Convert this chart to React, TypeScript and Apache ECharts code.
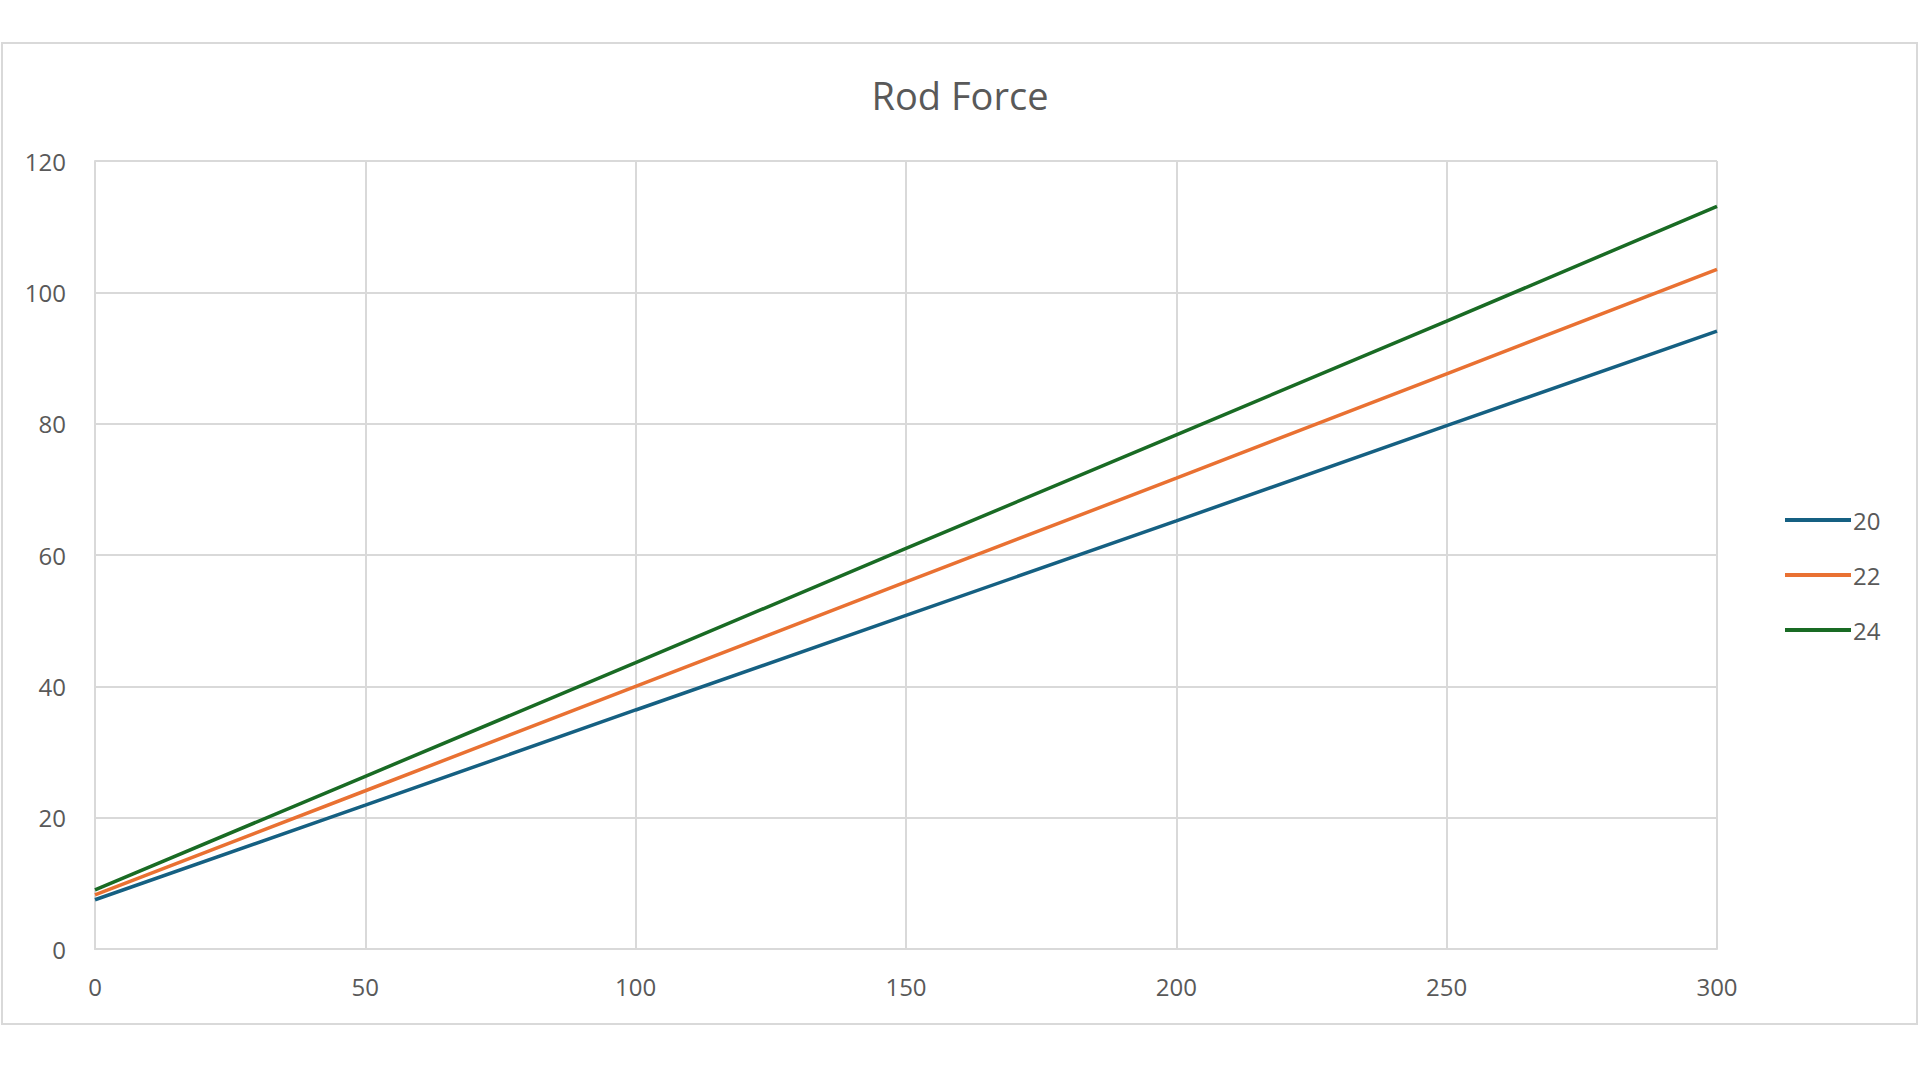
import React, { useEffect, useRef } from "react";
import * as echarts from "echarts";

const xValues = [0, 50, 100, 150, 200, 250, 300];
const seriesNames = ["20", "22", "24"];
const series20 = [7.5, 21.9, 36.4, 50.8, 65.2, 79.7, 94.1];
const series22 = [8.25, 24.1, 40.0, 55.9, 71.7, 87.6, 103.5];
const series24 = [9.0, 26.3, 43.6, 61.0, 78.3, 95.6, 113.1];
const seriesColors = ["#156082", "#E97132", "#196B24"];
const titleText = "Rod Force";

export default function App() {
  const ref = useRef<HTMLDivElement>(null);
  useEffect(() => {
    document.body.style.margin = "0";
    if (!ref.current) return;
    const chart = echarts.init(ref.current, undefined, { renderer: "svg" });
    const allData = [series20, series22, series24];
    const font = "'Open Sans', Roboto, 'Liberation Sans', sans-serif";
    chart.setOption({
      animation: false,
      backgroundColor: "#ffffff",
      textStyle: { fontFamily: font },
      title: {
        text: titleText,
        left: "center",
        top: 71,
        textStyle: { fontSize: 38, fontWeight: "normal", color: "#595959", fontFamily: font },
      },
      graphic: [
        {
          type: "rect",
          shape: { x: 2, y: 43, width: 1915, height: 981 },
          style: { fill: "none", stroke: "#d9d9d9", lineWidth: 2 },
          silent: true,
        },
      ],
      legend: {
        orient: "vertical",
        left: 1780,
        top: 503,
        icon: "rect",
        itemWidth: 66,
        itemHeight: 4,
        itemGap: 31,
        textStyle: { fontSize: 24, color: "#595959", fontFamily: font, padding: [0, 0, 0, -3] },
        data: seriesNames,
      },
      grid: { left: 95, right: 203, top: 161, bottom: 131, containLabel: false },
      xAxis: {
        type: "value",
        min: 0,
        max: 300,
        interval: 50,
        axisLine: { show: true, lineStyle: { color: "#d9d9d9", width: 2 } },
        axisTick: { show: false },
        axisLabel: { fontSize: 24, color: "#595959", margin: 25 },
        splitLine: { show: true, lineStyle: { color: "#d9d9d9", width: 2 } },
      },
      yAxis: {
        type: "value",
        min: 0,
        max: 120,
        interval: 20,
        axisLine: { show: true, lineStyle: { color: "#d9d9d9", width: 2 } },
        axisTick: { show: false },
        axisLabel: { fontSize: 24, color: "#595959", margin: 29 },
        splitLine: { show: true, lineStyle: { color: "#d9d9d9", width: 2 } },
      },
      series: seriesNames.map((name, i) => ({
        name,
        type: "line",
        data: xValues.map((x, j) => [x, allData[i][j]]),
        showSymbol: false,
        symbol: "none",
        lineStyle: { color: seriesColors[i], width: 3.5 },
        itemStyle: { color: seriesColors[i] },
      })),
    });
    return () => chart.dispose();
  }, []);
  return <div ref={ref} style={{ position: "absolute", left: 0, top: 0, width: 1920, height: 1080 }} />;
}
